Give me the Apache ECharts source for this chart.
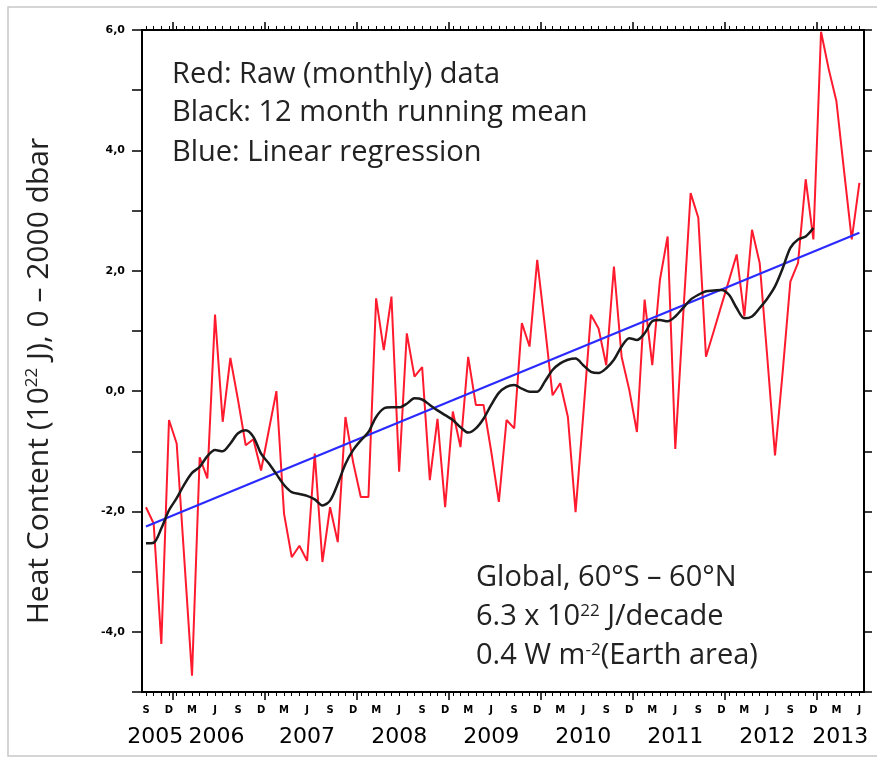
<!DOCTYPE html>
<html>
<head>
<meta charset="utf-8">
<script src="https://cdn.jsdelivr.net/npm/echarts@6/dist/echarts.min.js"></script>
<style>
html,body{margin:0;padding:0;background:#fff;}
#chart{width:877px;height:758px;}
</style>
</head>
<body>
<div id="chart"></div>
<script>
// ---- data (month index 0 = Sep 2005, 93 = Jun 2013) ----
const monthInitials = ['J','F','M','A','M','J','J','A','S','O','N','D'];
const startMonth = 8; // September (0-based)
const rawData = [
  -1.93,-2.2,-4.2,-0.48,-0.87,-2.8,-4.73,-1.1,-1.45,1.27,-0.51,0.55,
  -0.15,-0.9,-0.8,-1.32,-0.66,0.0,-2.04,-2.76,-2.57,-2.82,-1.04,-2.84,
  -1.93,-2.51,-0.43,-1.18,-1.76,-1.76,1.54,0.68,1.57,-1.34,0.96,0.24,
  0.4,-1.48,-0.46,-1.93,-0.34,-0.93,0.57,-0.23,-0.23,-1.0,-1.84,-0.48,
  -0.62,1.13,0.74,2.18,1.08,-0.07,0.13,-0.43,-2.01,-0.4,1.27,1.04,
  0.43,2.07,0.57,0.02,-0.68,1.52,0.43,1.85,2.57,-0.96,1.2,3.29,
  2.88,0.57,0.99,1.42,1.84,2.27,1.24,2.68,2.13,0.55,-1.07,0.32,
  1.82,2.13,3.52,2.52,5.97,5.35,4.82,3.66,2.52,3.46
];
const runningMean = [
  -2.53,-2.52,-2.28,-1.98,-1.78,-1.55,-1.36,-1.26,-1.08,-0.98,-1.0,-0.87,
  -0.7,-0.65,-0.76,-1.04,-1.2,-1.38,-1.56,-1.68,-1.71,-1.74,-1.8,-1.9,
  -1.82,-1.54,-1.21,-0.98,-0.82,-0.68,-0.43,-0.29,-0.27,-0.27,-0.21,-0.12,
  -0.14,-0.23,-0.32,-0.4,-0.48,-0.6,-0.69,-0.62,-0.46,-0.23,-0.03,0.07,
  0.1,0.04,-0.01,-0.01,0.16,0.35,0.46,0.52,0.54,0.43,0.32,0.3,
  0.38,0.52,0.74,0.88,0.85,0.96,1.16,1.18,1.16,1.24,1.38,1.52,
  1.6,1.66,1.67,1.68,1.6,1.38,1.21,1.24,1.38,1.54,1.74,2.04,
  2.38,2.52,2.57,2.71
];
const regressionStart = -2.25;  // at month 0
const regressionEnd = 2.63;     // at month 93
const yearLabels = ['2005','2006','2007','2008','2009','2010','2011','2012','2013'];
const yearLabelAt = [1.2, 9.2, 21, 33, 45, 57, 69, 81, 90.5];

// ---- derived ----
const nMonths = rawData.length;
const monthIdx = rawData.map((_, i) => i);
const quarterIdx = monthIdx.filter(i => i % 3 === 0);
const yearBoundaries = monthIdx.filter(i => (startMonth + i) % 12 === 11).map(i => i + 0.5);
const rawSeries = rawData.map((v, i) => [i, v]);
const meanSeries = runningMean.map((v, i) => [i, v]);
const regSeries = [[0, regressionStart], [nMonths - 1, regressionEnd]];

const X_MIN = -0.52, X_MAX = 93.6;
const baseX = {type: 'value', min: X_MIN, max: X_MAX, splitLine: {show: false},
  axisLine: {show: true, onZero: false, lineStyle: {color: '#000', width: 2}}};
const TXT = 'Open Sans';
const ANN = 29;

const chart = echarts.init(document.getElementById('chart'));
chart.setOption({
  backgroundColor: '#fff',
  animation: false,
  grid: {left: 142, right: 13, top: 30, bottom: 66, containLabel: false, outerBoundsMode: 'none'},
  xAxis: [
    Object.assign({}, baseX, {
      position: 'bottom',
      axisTick: {show: true, inside: false, length: 4, customValues: monthIdx, lineStyle: {color: '#000', width: 1}},
      axisLabel: {show: true, customValues: quarterIdx, margin: 13,
        formatter: v => monthInitials[(startMonth + Math.round(v)) % 12],
        fontFamily: 'DejaVu Sans', fontWeight: 'bold', fontSize: 10, color: '#000'}
    }),
    Object.assign({}, baseX, {
      position: 'bottom',
      axisTick: {show: true, inside: false, length: 8, customValues: yearBoundaries, lineStyle: {color: '#000', width: 1.5}},
      axisLabel: {show: true, customValues: yearLabelAt, margin: 34,
        formatter: v => { const k = yearLabelAt.findIndex(p => Math.abs(p - v) < 1e-6); return k >= 0 ? yearLabels[k] : ''; },
        fontFamily: 'DejaVu Sans', fontSize: 22, color: '#000'}
    }),
    Object.assign({}, baseX, {
      position: 'top',
      axisTick: {show: true, inside: false, length: 4, customValues: monthIdx, lineStyle: {color: '#000', width: 1}},
      axisLabel: {show: false}
    }),
    Object.assign({}, baseX, {
      position: 'top',
      axisTick: {show: true, inside: false, length: 8, customValues: yearBoundaries, lineStyle: {color: '#000', width: 1.5}},
      axisLabel: {show: false}
    })
  ],
  yAxis: [
    {
      type: 'value', min: -5, max: 6, interval: 1, position: 'left',
      splitLine: {show: false},
      axisLine: {show: true, onZero: false, lineStyle: {color: '#000', width: 2}},
      axisTick: {show: true, inside: false, length: 10, lineStyle: {color: '#000', width: 1.5}},
      axisLabel: {margin: 17, fontFamily: 'DejaVu Sans', fontWeight: 'bold', fontSize: 11, color: '#000',
        formatter: v => (Math.abs(v % 2) < 1e-9 ? (v === 0 ? 0 : v).toFixed(1).replace('.', ',') : '')},
      name: 'Heat Content (10{sup|22} J), 0 \u2013 2000 dbar',
      nameLocation: 'middle',
      nameGap: 88,
      nameTextStyle: {fontFamily: TXT, fontSize: 30, color: '#222', padding: [0, 40, 0, 0],
        rich: {sup: {fontFamily: TXT, fontSize: 17, color: '#222', verticalAlign: 'top'}}}
    },
    {
      type: 'value', min: -5, max: 6, interval: 1, position: 'right',
      splitLine: {show: false},
      axisLine: {show: true, onZero: false, lineStyle: {color: '#000', width: 2}},
      axisTick: {show: true, inside: false, length: 8, lineStyle: {color: '#000', width: 1.5}},
      axisLabel: {show: false}
    }
  ],
  series: [
    {type: 'line', name: 'Raw', data: rawSeries, xAxisIndex: 0, yAxisIndex: 0,
      showSymbol: false, lineStyle: {color: '#ff1a2e', width: 2}, z: 2},
    {type: 'line', name: 'Regression', data: regSeries, xAxisIndex: 0, yAxisIndex: 0,
      showSymbol: false, lineStyle: {color: '#2b2bff', width: 2.2}, z: 3},
    {type: 'line', name: 'Running mean', data: meanSeries, xAxisIndex: 0, yAxisIndex: 0,
      showSymbol: false, smooth: 0.3, lineStyle: {color: '#1a1a1a', width: 2.5}, z: 4}
  ],
  graphic: [
    {type: 'rect', shape: {x: 8, y: 7, width: 900, height: 749}, silent: true,
      style: {fill: 'none', stroke: '#c8c8c8', lineWidth: 1.5}, z: -10},
    {type: 'text', x: 172, y: 75, style: {text: 'Red: Raw (monthly) data', fontFamily: TXT, fontSize: ANN, fill: '#222', verticalAlign: 'middle'}},
    {type: 'text', x: 172, y: 113, style: {text: 'Black: 12 month running mean', fontFamily: TXT, fontSize: ANN, fill: '#222', verticalAlign: 'middle'}},
    {type: 'text', x: 172, y: 153, style: {text: 'Blue: Linear regression', fontFamily: TXT, fontSize: ANN, fill: '#222', verticalAlign: 'middle'}},
    {type: 'text', x: 476, y: 578, style: {text: 'Global, 60\u00B0S \u2013 60\u00B0N', fontFamily: TXT, fontSize: ANN, fill: '#222', verticalAlign: 'middle'}},
    {type: 'text', x: 476, y: 617, style: {text: '6.3 x 10{sup|22} J/decade', fontFamily: TXT, fontSize: ANN, fill: '#222', verticalAlign: 'middle',
      rich: {sup: {fontFamily: TXT, fontSize: 17, fill: '#222', verticalAlign: 'top'}}}},
    {type: 'text', x: 476, y: 656, style: {text: '0.4 W m{sup|-2}(Earth area)', fontFamily: TXT, fontSize: ANN, fill: '#222', verticalAlign: 'middle',
      rich: {sup: {fontFamily: TXT, fontSize: 17, fill: '#222', verticalAlign: 'top'}}}}
  ]
});
</script>
</body>
</html>
